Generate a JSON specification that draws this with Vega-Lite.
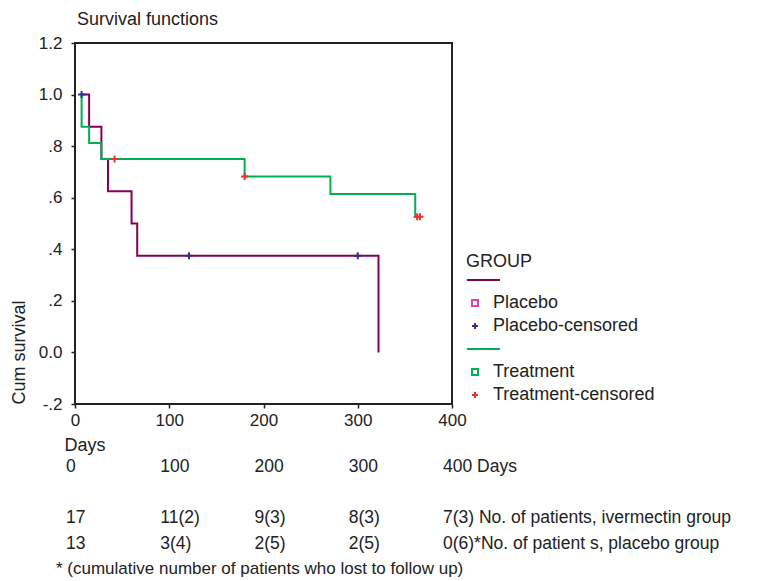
{
  "$schema": "https://vega.github.io/schema/vega-lite/v6.json",
  "padding": {"left": 9, "top": 10, "right": 0, "bottom": 0},
  "background": "white",
  "bounds": "flush",
  "spacing": 55,
  "config": {
    "font": "Liberation Sans",
    "view": {"stroke": null},
    "axis": {"grid": false, "domain": false, "tickColor": "#222", "tickWidth": 1.5, "tickSize": 4, "labelColor": "#222", "titleColor": "#222", "labelFontSize": 17, "titleFontSize": 18, "titleFontWeight": "normal", "labelFont": "Liberation Sans", "titleFont": "Liberation Sans"}
  },
  "vconcat": [
    {
      "width": 377,
      "height": 361,
      "view": {"stroke": "#222", "strokeWidth": 2},
      "title": {"text": "Survival functions", "anchor": "start", "frame": "group", "dx": 2, "fontSize": 18, "fontWeight": "normal", "color": "#222", "offset": 5, "font": "Liberation Sans"},
      "layer": [
        {
          "data": {"values": [
            {"series": "Placebo survival", "day": 7, "survival": 1.0},
            {"series": "Placebo survival", "day": 15, "survival": 0.875},
            {"series": "Placebo survival", "day": 28, "survival": 0.75},
            {"series": "Placebo survival", "day": 35, "survival": 0.625},
            {"series": "Placebo survival", "day": 60, "survival": 0.5},
            {"series": "Placebo survival", "day": 66, "survival": 0.375},
            {"series": "Placebo survival", "day": 322, "survival": 0.0},
            {"series": "Treatment survival", "day": 7, "survival": 1.0},
            {"series": "Treatment survival", "day": 7, "survival": 0.875},
            {"series": "Treatment survival", "day": 15, "survival": 0.8125},
            {"series": "Treatment survival", "day": 28, "survival": 0.75},
            {"series": "Treatment survival", "day": 180, "survival": 0.682},
            {"series": "Treatment survival", "day": 271, "survival": 0.614},
            {"series": "Treatment survival", "day": 361, "survival": 0.526},
            {"series": "Treatment survival", "day": 365, "survival": 0.526}
          ]},
          "mark": {"type": "line", "interpolate": "step-after", "strokeWidth": 2},
          "encoding": {
            "x": {"field": "day", "type": "quantitative", "scale": {"domain": [0, 400], "nice": false},
                  "axis": {"values": [0, 100, 200, 300, 400], "title": "Days", "titleAnchor": "start", "titleAlign": "left", "titleX": -11, "labelPadding": 4, "titlePadding": 8, "labelFlush": false}},
            "y": {"field": "survival", "type": "quantitative", "scale": {"domain": [-0.2, 1.2], "nice": false, "zero": false},
                  "axis": {"values": [-0.2, 0, 0.2, 0.4, 0.6, 0.8, 1.0, 1.2], "title": "Cum survival", "titleAnchor": "start", "labelPadding": 9, "titlePadding": 10,
                           "labelExpr": "abs(datum.value) < 1e-9 ? '0.0' : (datum.value >= 1 ? format(datum.value, '.1f') : (datum.value > 0 ? '.' + round(datum.value * 10) : '-.' + round(-datum.value * 10)))"}},
            "color": {"field": "series", "type": "nominal",
                      "scale": {"domain": ["Placebo survival", "Placebo", "Placebo-censored", "Treatment survival", "Treatment", "Treatment-censored"],
                                "range": ["#840054", "#e8409c", "#2e3192", "#00b04f", "#00b04f", "#ef3030"]},
                      "legend": {"title": "GROUP", "orient": "none", "legendX": 391, "legendY": 210, "titleFontSize": 18, "titleFontWeight": "normal", "titleColor": "#222", "titleFont": "Liberation Sans", "labelFont": "Liberation Sans", "labelFontSize": 18, "labelColor": "#222", "labelLimit": 300, "symbolSize": 36, "symbolStrokeWidth": 2, "symbolOffset": 0, "labelOffset": 9, "rowPadding": 5, "titlePadding": 0, "symbolFillColor": "transparent", "labelExpr": "indexof(datum.label, 'survival') >= 0 ? ' ' : datum.label"}}
          }
        },
        {
          "data": {"values": [
            {"series": "Placebo-censored", "day": 7, "survival": 1.0},
            {"series": "Placebo-censored", "day": 121, "survival": 0.375},
            {"series": "Placebo-censored", "day": 300, "survival": 0.375},
            {"series": "Treatment-censored", "day": 42, "survival": 0.75},
            {"series": "Treatment-censored", "day": 180, "survival": 0.682},
            {"series": "Treatment-censored", "day": 363, "survival": 0.526},
            {"series": "Treatment-censored", "day": 366, "survival": 0.526}
          ]},
          "mark": {"type": "point", "filled": false, "opacity": 1, "strokeWidth": 2, "size": 50},
          "encoding": {
            "x": {"field": "day", "type": "quantitative"},
            "y": {"field": "survival", "type": "quantitative"},
            "color": {"field": "series", "type": "nominal"},
            "shape": {"field": "series", "type": "nominal",
                      "scale": {"domain": ["Placebo survival", "Placebo", "Placebo-censored", "Treatment survival", "Treatment", "Treatment-censored"],
                                "range": ["M-2.7,0H8.3", "M-1,-1H1V1H-1Z", "M-1,0H1M0,-1V1", "M-2.7,0H8.3", "M-1,-1H1V1H-1Z", "M-1,0H1M0,-1V1"]},
                      "legend": {"title": "GROUP", "orient": "none", "legendX": 391, "legendY": 210, "titleFontSize": 18, "titleFontWeight": "normal", "titleColor": "#222", "titleFont": "Liberation Sans", "labelFont": "Liberation Sans", "labelFontSize": 18, "labelColor": "#222", "labelLimit": 300, "symbolSize": 36, "symbolStrokeWidth": 2, "symbolOffset": 0, "labelOffset": 9, "rowPadding": 5, "titlePadding": 0, "symbolFillColor": "transparent", "labelExpr": "indexof(datum.label, 'survival') >= 0 ? ' ' : datum.label"}}
          }
        }
      ]
    },
    {
      "width": 377,
      "height": 118,
      "data": {"values": [
        {"row": "time", "day": 0, "label": "0"},
        {"row": "time", "day": 100, "label": "100"},
        {"row": "time", "day": 200, "label": "200"},
        {"row": "time", "day": 300, "label": "300"},
        {"row": "time", "day": 400, "label": "400 Days"},
        {"row": "ivermectin", "day": 0, "label": "17"},
        {"row": "ivermectin", "day": 100, "label": "11(2)"},
        {"row": "ivermectin", "day": 200, "label": "9(3)"},
        {"row": "ivermectin", "day": 300, "label": "8(3)"},
        {"row": "ivermectin", "day": 400, "label": "7(3)  No. of patients, ivermectin group"},
        {"row": "placebo", "day": 0, "label": "13"},
        {"row": "placebo", "day": 100, "label": "3(4)"},
        {"row": "placebo", "day": 200, "label": "2(5)"},
        {"row": "placebo", "day": 300, "label": "2(5)"},
        {"row": "placebo", "day": 400, "label": "0(6)*No. of patient s, placebo group"},
        {"row": "note", "day": 0, "label": "* (cumulative number of patients who lost to follow up)"}
      ]},
      "encoding": {
        "x": {"field": "day", "type": "quantitative", "scale": {"domain": [0, 400], "nice": false}, "axis": null},
        "y": {"field": "row", "type": "ordinal", "scale": {"type": "point", "domain": ["time", "blank", "ivermectin", "placebo", "note"], "padding": 0.3}, "axis": null},
        "text": {"field": "label"}
      },
      "layer": [
        {
          "transform": [{"filter": "datum.row != 'note'"}],
          "mark": {"type": "text", "align": "left", "baseline": "middle", "dx": -9, "fontSize": 17.5, "color": "#222", "font": "Liberation Sans"}
        },
        {
          "transform": [{"filter": "datum.row == 'note'"}],
          "mark": {"type": "text", "align": "left", "baseline": "middle", "dx": -19, "fontSize": 17, "color": "#222", "font": "Liberation Sans"}
        }
      ]
    }
  ]
}
